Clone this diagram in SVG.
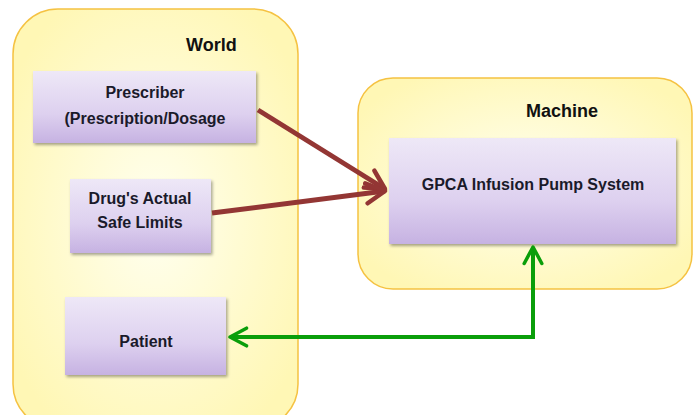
<svg xmlns="http://www.w3.org/2000/svg" width="694" height="415" viewBox="0 0 694 415">
<defs>
<radialGradient id="yel" cx="50%" cy="50%" r="60%">
<stop offset="0" stop-color="#FFFFF0"/>
<stop offset="1" stop-color="#FFF7B5"/>
</radialGradient>
<linearGradient id="lav" x1="0" y1="0" x2="0" y2="1">
<stop offset="0" stop-color="#EEE8F7"/>
<stop offset="0.6" stop-color="#DDD0EF"/>
<stop offset="1" stop-color="#C6B2E2"/>
</linearGradient>
<filter id="sh" x="-10%" y="-10%" width="125%" height="130%">
<feDropShadow dx="1.5" dy="2" stdDeviation="1.5" flood-color="#000" flood-opacity="0.35"/>
</filter>
<marker id="brownHead" viewBox="0 0 10 10" refX="8.5" refY="5" markerWidth="5" markerHeight="5" orient="auto" markerUnits="strokeWidth">
<path d="M1,1 L8.5,5 L1,9" fill="none" stroke="#933634" stroke-width="1.8" stroke-linecap="round" stroke-linejoin="round"/>
</marker>
<marker id="greenHead" viewBox="0 0 10 10" refX="8.5" refY="5" markerWidth="5.5" markerHeight="5.5" orient="auto-start-reverse" markerUnits="strokeWidth">
<path d="M1,1 L8.5,5 L1,9" fill="none" stroke="#0A9E0A" stroke-width="1.6" stroke-linecap="round" stroke-linejoin="round"/>
</marker>
</defs>
<style>
.container{fill:url(#yel);stroke:#F5C242;stroke-width:1.5}
.node{fill:url(#lav);filter:url(#sh)}
.title{font-family:"Liberation Sans",Arial,sans-serif;font-weight:bold;font-size:18px;fill:#111}
.label{font-family:"Liberation Sans",Arial,sans-serif;font-weight:bold;font-size:16px;fill:#1a1a2a;text-anchor:middle}
.brown{fill:none;stroke:#933634;stroke-width:5;marker-end:url(#brownHead)}
.green{fill:none;stroke:#0A9E0A;stroke-width:4;marker-start:url(#greenHead);marker-end:url(#greenHead)}
</style>
<rect width="694" height="415" fill="#fff"/>
<g id="world">
<rect class="container" x="13" y="9" width="285" height="420" rx="45"/>
<text class="title" x="186" y="51">World</text>
</g>
<g id="machine">
<rect class="container" x="358" y="78" width="334" height="211" rx="35"/>
<text class="title" x="526" y="117">Machine</text>
</g>
<g id="prescriber">
<rect class="node" x="33" y="71" width="223" height="72"/>
<text class="label" x="145" y="98">Prescriber</text>
<text class="label" x="145" y="124">(Prescription/Dosage</text>
</g>
<g id="drug">
<rect class="node" x="70" y="179" width="141" height="74"/>
<text class="label" x="140" y="204">Drug's Actual</text>
<text class="label" x="140" y="228">Safe Limits</text>
</g>
<g id="patient">
<rect class="node" x="65" y="297" width="161" height="78"/>
<text class="label" x="146" y="347">Patient</text>
</g>
<g id="gpca">
<rect class="node" x="389" y="138" width="287" height="106"/>
<text class="label" x="533" y="190">GPCA Infusion  Pump System</text>
</g>
<g id="connectors">
<path class="brown" d="M258,110 L385,189"/>
<path class="brown" d="M212,213 L385,191"/>
<path class="green" d="M230,337 L533,337 L533,247"/>
</g>
</svg>
